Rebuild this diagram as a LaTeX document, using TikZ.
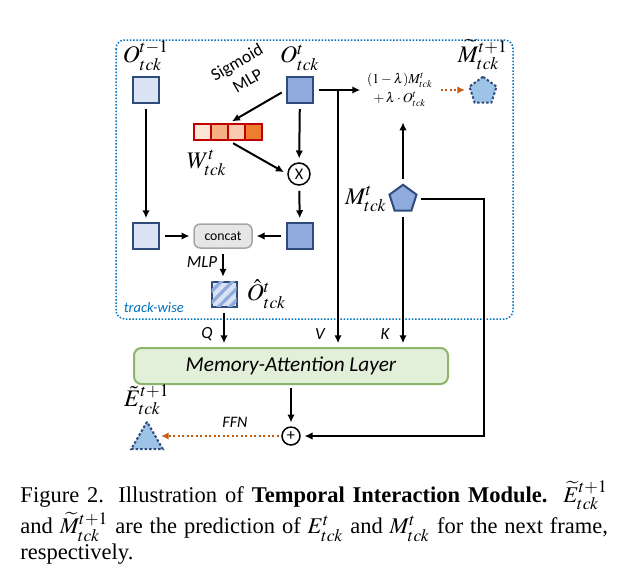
\documentclass[tikz,border=0pt]{standalone}
\usepackage{mathptmx}
\usepackage[no-math]{fontspec}
\setmainfont{Liberation Serif}
\newfontfamily\calibri{Carlito}
\usepackage{xcolor}
\definecolor{boxLight}{HTML}{DAE3F3}
\definecolor{boxMid}{HTML}{8FAADC}
\definecolor{boxEdge}{HTML}{2F4B7C}
\definecolor{predFill}{HTML}{9DC3E6}
\definecolor{trackBlue}{HTML}{0070C0}
\definecolor{ffnOrange}{HTML}{C55A11}
\definecolor{cellEdge}{HTML}{C00000}
\definecolor{cellA}{HTML}{FBE5D6}
\definecolor{cellB}{HTML}{F4B183}
\definecolor{cellC}{HTML}{F8CBAD}
\definecolor{cellD}{HTML}{ED7D31}
\definecolor{layerFill}{HTML}{E2F0D9}
\definecolor{layerEdge}{HTML}{8CB56B}
\definecolor{concatFill}{HTML}{E7E6E6}
\definecolor{concatEdge}{HTML}{A6A6A6}
\usetikzlibrary{arrows.meta,positioning,calc,shapes.geometric,patterns.meta}

\begin{document}
\begin{tikzpicture}[x=0.4pt, y=-0.4pt,
  feat/.style={draw=boxEdge, line width=0.8pt, minimum size=10.4pt, inner sep=0pt},
  featOld/.style={feat, fill=boxLight},
  featCur/.style={feat, fill=boxMid},
  featHat/.style={feat, minimum size=10pt, fill=boxLight, postaction={pattern={Lines[angle=45,distance=3.2pt,line width=1.3pt]}, pattern color=boxMid}},
  cell/.style={draw=cellEdge, line width=0.6pt, minimum width=6.8pt, minimum height=6.4pt, inner sep=0pt},
  memPent/.style={regular polygon, regular polygon sides=5, draw=boxEdge, line width=0.8pt, minimum size=11.4pt, inner sep=0pt},
  predDash/.style={dash pattern=on 1pt off 0.8pt},
  op/.style={circle, draw, line width=0.6pt, inner sep=0pt, font=\calibri\fontsize{6.5}{7}\selectfont},
  lbl/.style={inner sep=0.5pt, font=\fontsize{9.5}{11}\selectfont},
  note/.style={inner sep=0.5pt, font=\calibri\itshape\fontsize{6.8}{8}\selectfont},
  arr/.style={-{Latex[length=3.2pt,width=3pt]}, line width=0.8pt, shorten <=2pt, shorten >=1.5pt},
  predArr/.style={ffnOrange, densely dotted, line width=0.8pt, -{Latex[length=3pt,width=3pt]}},
]
\useasboundingbox (0,0) rectangle (618,582);

% track-wise region
\draw[trackBlue, line width=0.6pt, dash pattern=on 0.6pt off 0.7pt, rounded corners=3.5pt] (116,40) rectangle (513,319);
\node[note, text=trackBlue, font=\calibri\itshape\fontsize{5.8}{7}\selectfont, anchor=west] (tw) at (122,308) {track-wise};

% track features of the last and current frame
\node[featOld] (oprev) at (146,90) {};
\node[featCur] (ocur) at (300,90) {};
\node[lbl, above=1.5pt of oprev] (oprevL) {$O^{t-1}_{tck}$};
\node[lbl, above=1.5pt of ocur] (ocurL) {$O^{t}_{tck}$};
\node[note, font=\calibri\fontsize{7}{8.5}\selectfont, rotate=30, align=center] (sig) at (242,71) {Sigmoid\\MLP};

% weight vector
\foreach \i/\col in {0/cellA,1/cellB,2/cellC,3/cellD}
  \node[cell, fill=\col] (w\i) at (202.5+17*\i,132) {};
\node[lbl] (wL) at (207,163) {$W^{t}_{tck}$};

\node[op, minimum size=8.8pt] (mult) at (299,174) {X};

\node[featOld] (oprevB) at (146,236) {};
\node[featCur] (ocurB) at (300,236) {};
\node[draw=concatEdge, fill=concatFill, rounded corners=2.5pt, line width=0.6pt, minimum width=23.2pt, minimum height=9.6pt, inner sep=0pt, font=\calibri\fontsize{5.5}{6}\selectfont] (cat) at (223,236) {concat};
\node[note] (mlpL) at (202,262) {MLP};
\node[featHat] (ohat) at (224,294) {};
\node[lbl, right=3pt of ohat] (ohatL) {$\hat{O}^{t}_{tck}$};

% memory update
\node[inner sep=1pt, align=center, font=\fontsize{5.5}{7.5}\selectfont] (upd) at (400,90) {$(1-\lambda)M^{t}_{tck}$\\$+\,\lambda\cdot O^{t}_{tck}$};
\node[memPent, fill=predFill, predDash] (mpred) at (483,91) {};
\node[lbl, above=1.5pt of mpred] (mpredL) {$\widetilde{M}^{t+1}_{tck}$};
\node[memPent, fill=boxMid] (mcur) at (403,199) {};
\node[lbl, left=0.5pt of mcur] (mcurL) {$M^{t}_{tck}$};

% attention and prediction
\node[draw=layerEdge, fill=layerFill, line width=0.8pt, rounded corners=3pt, minimum width=125.6pt, minimum height=14.4pt, font=\calibri\itshape\fontsize{8.5}{10}\selectfont] (mal) at (291,366) {Memory-Attention Layer};
\node[op, minimum size=7.2pt] (plus) at (291,436) {+};
\node[regular polygon, regular polygon sides=3, minimum size=14.6pt, inner sep=0pt, draw=boxEdge, predDash, fill=predFill, line width=0.8pt] (epred) at (147,440) {};
\node[lbl, above=1.5pt of epred] (epredL) {$\tilde{E}^{t+1}_{tck}$};
\node[note] (qL) at (207,334) {Q};
\node[note] (vL) at (320,334) {V};
\node[note] (kL) at (385,334) {K};
\node[note, font=\calibri\itshape\fontsize{6.4}{8}\selectfont] (ffnL) at (235,422) {FFN};

% connectors
\draw[arr] (oprev) -- (oprevB);
\draw[arr] (ocur.west) -- (w1.north east);
\draw[arr] (w1.south east) -- (mult.west);
\draw[arr] (ocur) -- (mult);
\draw[arr] (mult) -- (ocurB);
\draw[arr] (oprevB) -- (cat);
\draw[arr] (ocurB) -- (cat);
\draw[arr] (cat.south) -- (cat.south |- ohat.north);
\draw[arr] (ohat.south) -- (ohat.south |- mal.north);
\draw[arr] (ocur.east) -- (ocur.east -| upd.west);
\coordinate (vsplit) at (338,90);
\draw[arr, shorten <=0pt] (vsplit) -- (vsplit |- mal.north);
\draw[arr, shorten >=5pt] (mcur) -- (mcur |- upd.south);
\draw[arr] (mcur) -- (mcur |- mal.north);
\coordinate (fbx) at (484,0);
\draw[arr] (mcur.east) -- (mcur.east -| fbx) |- (plus.east);
\draw[arr, shorten <=1pt] (mal.south -| plus) -- (plus.north);
\draw[predArr, shorten <=2pt, shorten >=2pt] (upd.east) -- (upd.east -| mpred.west);
\draw[predArr, shorten <=1pt, shorten >=1pt] (plus.west) -- (plus.west -| epred.east);

% caption
\node[anchor=base west, text width=235pt, align=justify, inner sep=0pt, font=\fontsize{9}{10.2}\selectfont] (cap) at (20,502) {Figure 2. Illustration of \textbf{Temporal Interaction Module.}\ \ $\widetilde{E}^{t+1}_{tck}$\linebreak and $\widetilde{M}^{t+1}_{tck}$ are the prediction of $E^{t}_{tck}$ and $M^{t}_{tck}$ for the next frame,\linebreak respectively.};

\end{tikzpicture}
\end{document}
